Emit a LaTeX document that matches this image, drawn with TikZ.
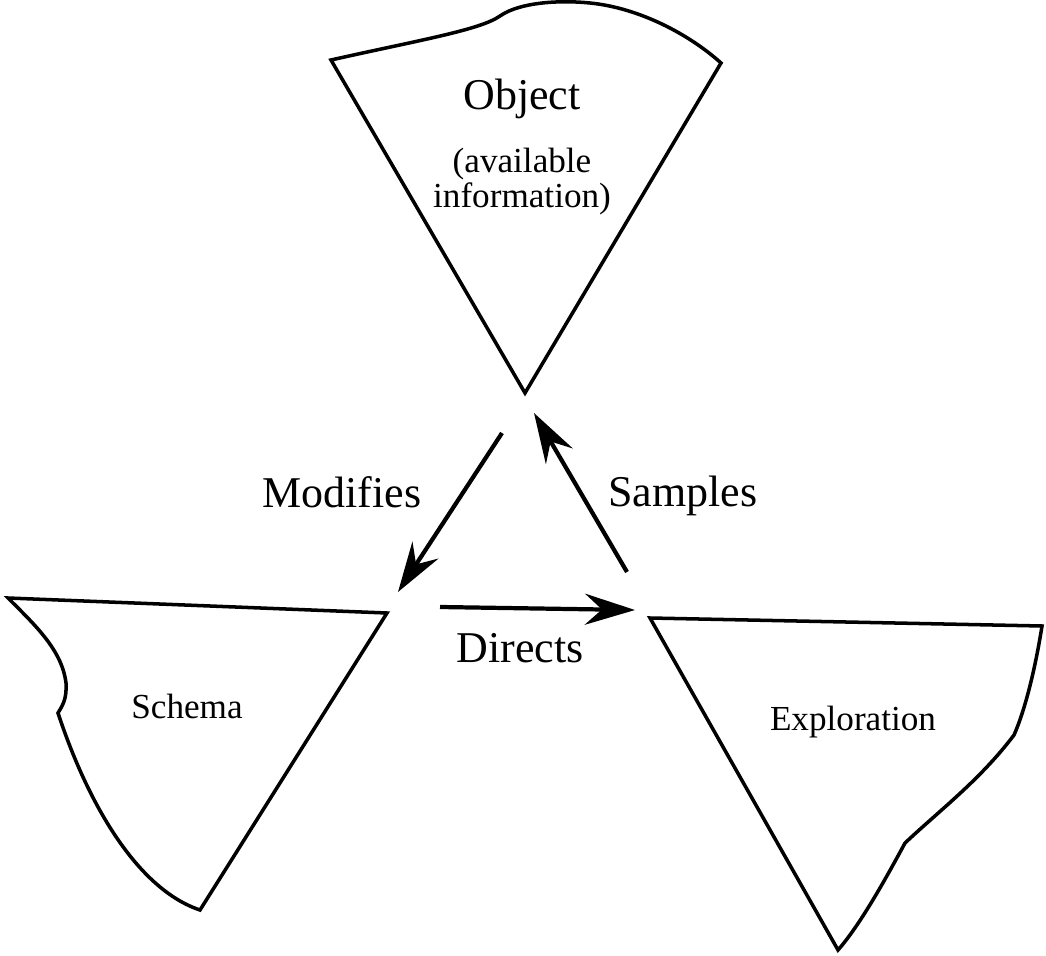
\documentclass[tikz,border=0pt]{standalone}
\usepackage{fontspec}
\setmainfont{Liberation Serif}
\usetikzlibrary{arrows.meta, positioning}

\begin{document}
\begin{tikzpicture}[x=0.01cm, y=-0.01cm]

	\tikzset{
		part/.style={
				draw=black, line width=1pt
			},
		flow/.style={
				-{Stealth[length=5mm, width=3.1mm, inset=1.7mm]}, line width=1.2pt
			},
		bigtext/.style={
				font=\fontsize{12.5}{14}\selectfont, inner sep=0pt
			},
		smalltext/.style={
				font=\fontsize{10}{9.8}\selectfont, inner sep=0pt, align=center
			},
	}
	\useasboundingbox (0,0) rectangle (1046,955);

	% object (top)
	\draw[part] (331,60) .. controls (420,40) and (480,30) .. (500,16)
		.. controls (520,2) and (560,0) .. (590,3)
		.. controls (640,8) and (690,35) .. (721,63)
		-- (525,393) -- cycle;
	% schema (left)
	\draw[part] (8,598) -- (387,613) -- (200,910)
		.. controls (140,890) and (90,810) .. (58,713)
		.. controls (62,706) and (67,700) .. (66,683)
		.. controls (62,650) and (35,625) .. (8,598) -- cycle;
	% exploration (right)
	\draw[part] (650,618) -- (1042,626)
		.. controls (1035,670) and (1025,710) .. (1014,735)
		.. controls (980,780) and (940,810) .. (905,843)
		.. controls (885,880) and (860,925) .. (838,950) -- cycle;

	\node[bigtext](obj) at (522,99){Object};
	\node[smalltext, below=0.28cm of obj](objinfo){(available\\
		information)};
	\node[smalltext](sch) at (187,706){Schema};
	\node[smalltext](exp) at (853,722){Exploration};

	\coordinate (modA) at (502,433);
	\coordinate (modB) at (398,592);
	\coordinate (samA) at (627,572);
	\coordinate (samB) at (534,413);
	\coordinate (dirA) at (440,607);
	\coordinate (dirB) at (635,610);

	\node[bigtext](modlabel) at (342,492){Modifies};
	\node[bigtext](samlabel) at (683,496){Samples};
	\node[bigtext](dirlabel) at (520,648){Directs};

	\draw[flow] (modA)--(modB);
	\draw[flow] (samA)--(samB);
	\draw[flow] (dirA)--(dirB);

\end{tikzpicture}
\end{document}
